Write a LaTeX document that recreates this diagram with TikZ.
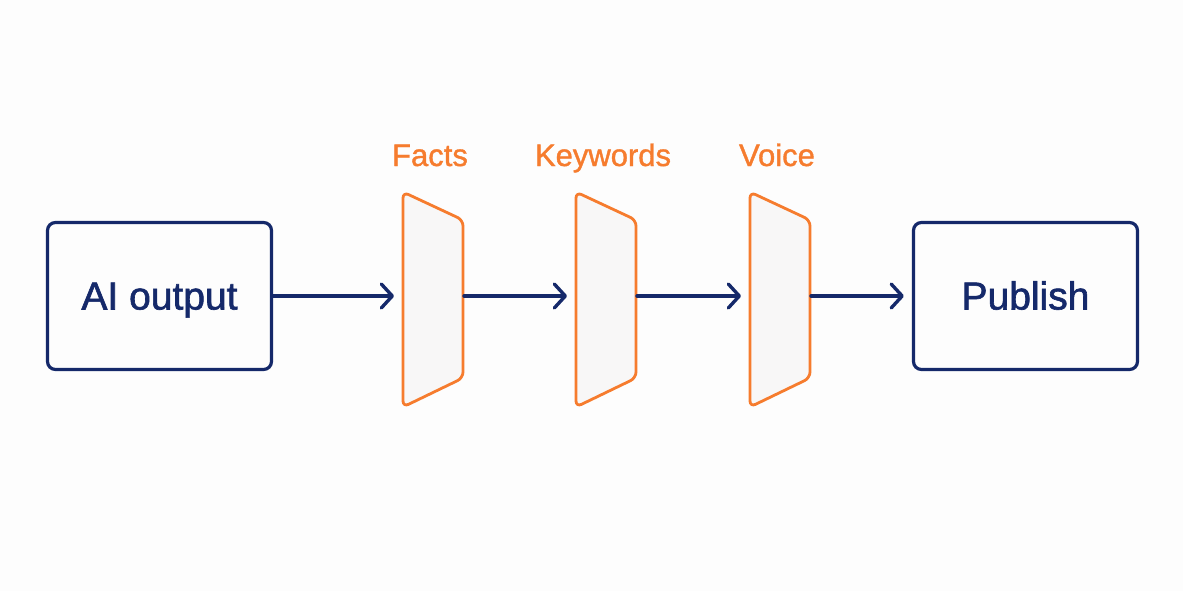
\documentclass[tikz,border=0pt]{standalone}
\usepackage{fontspec}
\setmainfont{Liberation Sans}
\usetikzlibrary{arrows.meta}
\definecolor{navy}{HTML}{15296A}
\definecolor{orng}{HTML}{F67C2E}
\definecolor{flt}{HTML}{F8F7F7}
\definecolor{bg}{HTML}{FDFDFD}
\tikzset{
  endbox/.style={draw=navy, line width=3.2pt, rounded corners=8pt, minimum width=224pt, minimum height=147pt, inner sep=0pt, text=navy, text height=27pt, text depth=0pt, font=\fontsize{39}{42}\selectfont\addfontfeature{FakeBold=1.6}},
  filtershape/.style={draw=orng, fill=flt, line width=2.8pt, rounded corners=6pt, line join=round},
  flabel/.style={text=orng, font=\fontsize{31}{34}\selectfont\addfontfeature{FakeBold=1.2}, inner sep=0pt, anchor=base},
  arr/.style={draw=navy, line width=3.4pt, -{Straight Barb[length=11pt,width=24pt,line width=3.4pt,round]}, line cap=round},
}
\begin{document}
\begin{tikzpicture}[x=1pt,y=-1pt]
\useasboundingbox[fill=bg] (0,0) rectangle (1183,591);
\node[endbox] (ai) at (159.5,296) {AI output};
\node[endbox] (pub) at (1025.5,296) {Publish};
\foreach \i/\x/\lab in {1/403/Facts,2/576/Keywords,3/750/Voice}{
  \draw[filtershape] (\x,192) -- (\x+60,220) -- (\x+60,378) -- (\x,407) -- cycle;
  \coordinate (f\i w) at (\x-1,296);
  \coordinate (f\i e) at (\x+61,296);
  \node[flabel] (l\i) at (\x+27,166) {\lab};
}
\draw[arr, shorten >=8pt] (ai.east) -- (f1w);
\draw[arr, shorten >=8pt] (f1e) -- (f2w);
\draw[arr, shorten >=8pt] (f2e) -- (f3w);
\draw[arr, shorten >=8pt] (f3e) -- (pub.west);
\end{tikzpicture}
\end{document}
